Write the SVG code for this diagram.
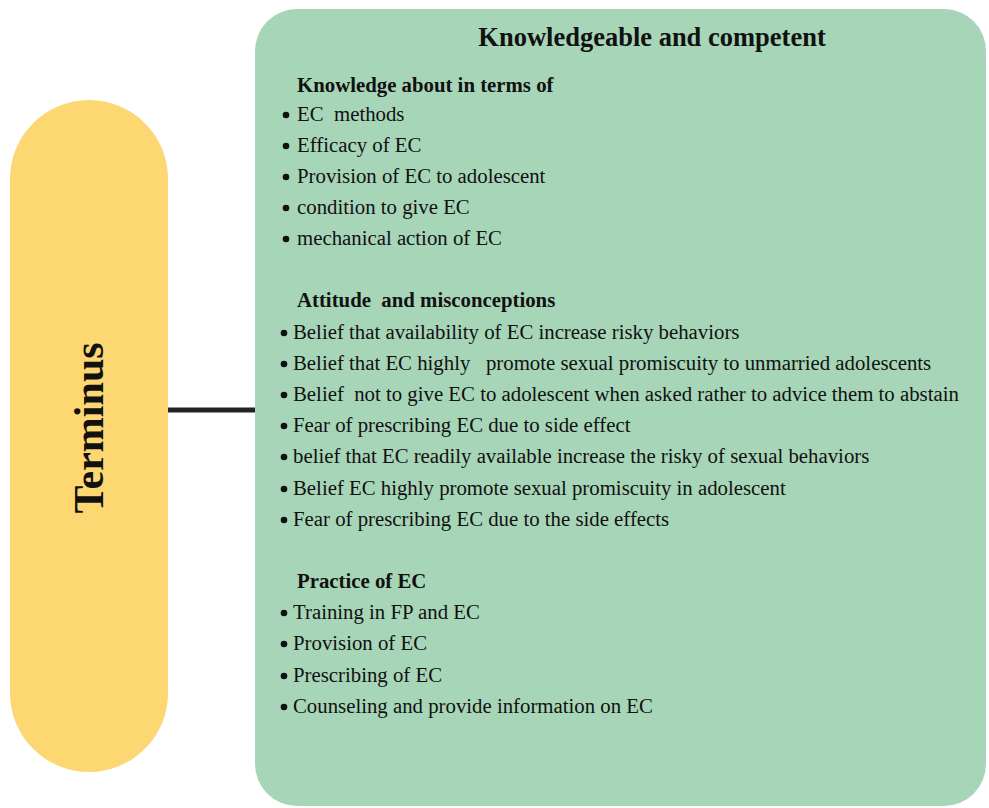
<svg xmlns="http://www.w3.org/2000/svg" width="989" height="808" viewBox="0 0 989 808">
  <style>
    text { font-family: "Liberation Serif", "Times New Roman", serif; fill: #111; white-space: pre; }
    .title { font-size: 26.5px; font-weight: bold; }
    .head { font-size: 20.8px; font-weight: bold; }
    .item { font-size: 20.8px; }
    .term { font-size: 42px; font-weight: bold; }
    .dot { fill: #111; }
  </style>
  <rect width="989" height="808" fill="#ffffff"/>
  <g id="connectors">
    <line x1="166" y1="410" x2="257" y2="410" stroke="#222" stroke-width="5"/>
  </g>
  <g id="terminus">
    <rect x="10" y="100" width="158" height="672" rx="79" ry="79" fill="#fcd772"/>
    <text class="term" text-anchor="middle" transform="translate(103 428) rotate(-90)">Terminus</text>
  </g>
  <g id="competent">
    <rect x="255" y="9" width="731" height="797" rx="42" ry="42" fill="#a7d5b8"/>
    <text class="title" x="652" y="46" text-anchor="middle">Knowledgeable and competent</text>

    <!-- knowledge -->
    <text class="head" x="297" y="92">Knowledge about in terms of</text>
    <g>
      <circle class="dot" cx="286" cy="115" r="3.3"/>
      <circle class="dot" cx="286" cy="146" r="3.3"/>
      <circle class="dot" cx="286" cy="177" r="3.3"/>
      <circle class="dot" cx="286" cy="208" r="3.3"/>
      <circle class="dot" cx="286" cy="239" r="3.3"/>
      <text class="item" x="297" y="121">EC  methods</text>
      <text class="item" x="297" y="152">Efficacy of EC</text>
      <text class="item" x="297" y="183">Provision of EC to adolescent</text>
      <text class="item" x="297" y="214">condition to give EC</text>
      <text class="item" x="297" y="245">mechanical action of EC</text>
    </g>

    <!-- attitude -->
    <text class="head" x="297" y="307">Attitude  and misconceptions</text>
    <g>
      <circle class="dot" cx="284" cy="333" r="3.3"/>
      <circle class="dot" cx="284" cy="364" r="3.3"/>
      <circle class="dot" cx="284" cy="395" r="3.3"/>
      <circle class="dot" cx="284" cy="426" r="3.3"/>
      <circle class="dot" cx="284" cy="457" r="3.3"/>
      <circle class="dot" cx="284" cy="489" r="3.3"/>
      <circle class="dot" cx="284" cy="520" r="3.3"/>
      <text class="item" x="293" y="339">Belief that availability of EC increase risky behaviors</text>
      <text class="item" x="293" y="370">Belief that EC highly   promote sexual promiscuity to unmarried adolescents</text>
      <text class="item" x="293" y="401">Belief  not to give EC to adolescent when asked rather to advice them to abstain</text>
      <text class="item" x="293" y="432">Fear of prescribing EC due to side effect</text>
      <text class="item" x="293" y="463">belief that EC readily available increase the risky of sexual behaviors</text>
      <text class="item" x="293" y="495">Belief EC highly promote sexual promiscuity in adolescent</text>
      <text class="item" x="293" y="526">Fear of prescribing EC due to the side effects</text>
    </g>

    <!-- practice -->
    <text class="head" x="297" y="588">Practice of EC</text>
    <g>
      <circle class="dot" cx="284" cy="613" r="3.3"/>
      <circle class="dot" cx="284" cy="644" r="3.3"/>
      <circle class="dot" cx="284" cy="676" r="3.3"/>
      <circle class="dot" cx="284" cy="707" r="3.3"/>
      <text class="item" x="293" y="619">Training in FP and EC</text>
      <text class="item" x="293" y="650">Provision of EC</text>
      <text class="item" x="293" y="682">Prescribing of EC</text>
      <text class="item" x="293" y="713">Counseling and provide information on EC</text>
    </g>
  </g>
</svg>
